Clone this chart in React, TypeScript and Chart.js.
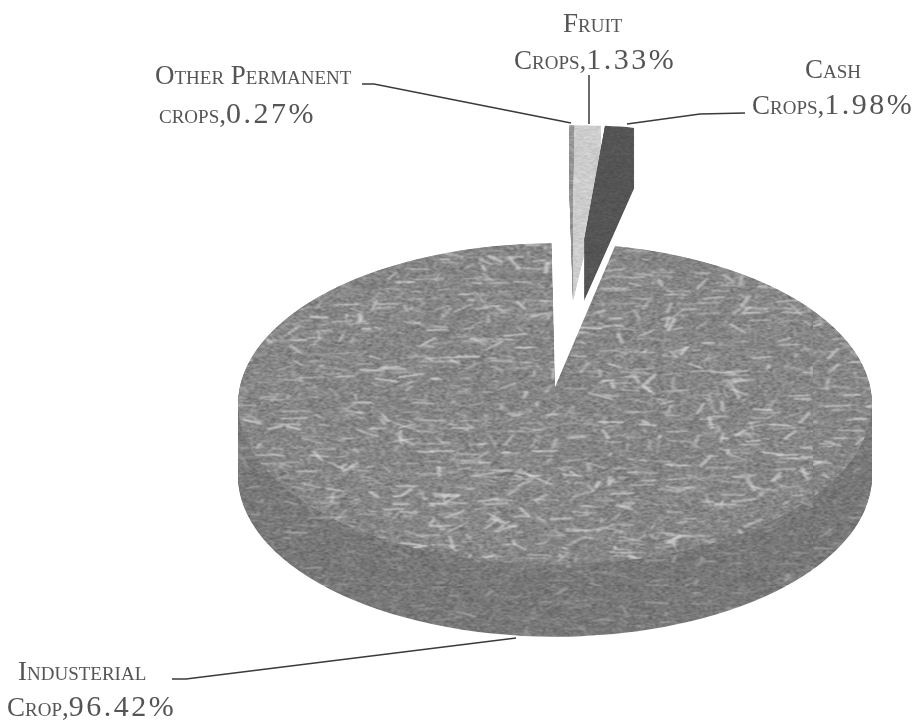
import React, { useEffect, useRef } from "react";
import { Chart, registerables } from "chart.js";

Chart.register(...registerables);

const categories = ["Other Permanent crops", "Fruit Crops", "Cash Crops", "Industerial Crop"];
const shares = [0.27, 1.33, 1.98, 96.42];
const firstLines = ["Other Permanent", "Fruit", "Cash", "Industerial"];
const secondLines = ["crops", "Crops", "Crops", "Crop"];

// Text layout: [left, baseline] for each line, in category order
const firstLinePos = [[155, 84], [563, 32], [805, 78], [18, 680]];
const secondLinePos = [[159, 122], [514, 68], [752, 113], [7, 715]];
const leaders = [
  [[362, 84], [374, 84], [571, 123]],
  [[589, 75], [589, 124]],
  [[745, 113], [700, 114], [627, 124]],
  [[172, 679], [186, 679], [516, 638]],
];

const CX = 555, CY = 404, RADIUS = 317, TILT = 0.507, DEPTH = 72, APEX_LIFT = 17;
const EX_X = 573, EX_Y = 241, EX_TILT = 0.365, EX_DEPTH = 60;
const exNudge = [0, 0, 11];
const exWidth = [1, 1, 0.75];

function makeTexture(base: number, spread: number, flecks: number, fleckTone: number) {
  const S = 720;
  let seed = 12345 + base * 7;
  const next = () => {
    seed = (seed * 1664525 + 1013904223) % 4294967296;
    return seed / 4294967296;
  };
  const raw = document.createElement("canvas");
  raw.width = raw.height = S;
  const r = raw.getContext("2d")!;
  const img = r.createImageData(S, S);
  for (let i = 0; i < S * S; i++) {
    const v = base + (next() - 0.5) * spread;
    img.data[i * 4] = img.data[i * 4 + 1] = img.data[i * 4 + 2] = v;
    img.data[i * 4 + 3] = 255;
  }
  r.putImageData(img, 0, 0);
  r.lineCap = "round";
  for (let i = 0; i < flecks; i++) {
    const x = next() * S, y = next() * S;
    const horizontal = next() < 0.45;
    const a = horizontal ? (next() - 0.5) * 0.25 : next() * Math.PI;
    const len = 4 + next() * 20;
    r.strokeStyle = `rgba(${fleckTone},${fleckTone},${fleckTone},${0.2 + next() * 0.45})`;
    r.lineWidth = 1.5 + next() * 3;
    r.beginPath();
    r.moveTo(x, y);
    r.lineTo(x + Math.cos(a) * len, y + Math.sin(a) * len);
    r.stroke();
  }
  const out = document.createElement("canvas");
  out.width = out.height = S;
  const o = out.getContext("2d")!;
  o.filter = "blur(1px)";
  o.drawImage(raw, 0, 0);
  return o.createPattern(out, "repeat")!;
}

function paint(ctx: any, el: any, fill: any, tx: number, ty: number, sy: number, sx = 1) {
  const saved = el.options;
  el.options = { ...saved, backgroundColor: fill };
  ctx.save();
  ctx.translate(tx, ty);
  ctx.scale(sx, sy);
  ctx.translate(-el.x, -el.y);
  el.draw(ctx);
  ctx.restore();
  el.options = saved;
}

export default function App() {
  const ref = useRef<HTMLCanvasElement>(null);
  useEffect(() => {
    const top = makeTexture(134, 120, 1800, 228);
    const side = makeTexture(120, 100, 900, 180);
    const light = makeTexture(205, 70, 60, 240);
    const mid = makeTexture(150, 90, 0, 200);
    const dark = makeTexture(85, 45, 0, 120);
    const fills = [mid, light, dark, top];

    const pie3d = {
      id: "pie3d",
      beforeDatasetsDraw(chart: any) {
        const ctx = chart.ctx;
        const arcs = chart.getDatasetMeta(0).data;
        const main = arcs[3];
        // Pulled-out group, cash in front of the lighter slices
        [0, 1, 2].forEach((i) => {
          const x = EX_X + exNudge[i];
          for (let d = EX_DEPTH; d > 0; d--) {
            fills[i].setTransform(new DOMMatrix([1, 0, 0, 1, 0, -d / EX_TILT]));
            paint(ctx, arcs[i], fills[i], x, EX_Y + d, EX_TILT, exWidth[i]);
          }
          fills[i].setTransform(new DOMMatrix());
          paint(ctx, arcs[i], fills[i], x, EX_Y, EX_TILT, exWidth[i]);
        });
        // Side wall: the texture stays still while the slice steps down
        for (let d = DEPTH; d > 0; d--) {
          side.setTransform(new DOMMatrix([1, 0, 0, 1, 0, -d / TILT]));
          paint(ctx, main, side, CX, CY + d, TILT);
        }
        // Top face, with the perspective-raised tip of the gap
        ctx.save();
        ctx.beginPath();
        ctx.ellipse(CX, CY, RADIUS, RADIUS * TILT, 0, 0, Math.PI * 2);
        ctx.clip();
        top.setTransform(new DOMMatrix([1, 0, 0, 1, 0, APEX_LIFT / TILT]));
        paint(ctx, main, top, CX, CY - APEX_LIFT, TILT);
        top.setTransform(new DOMMatrix());
        paint(ctx, main, top, CX, CY, TILT);
        ctx.restore();
        return false;
      },
      afterDraw(chart: any) {
        const ctx = chart.ctx;
        ctx.save();
        ctx.strokeStyle = "#3a3a3a";
        ctx.lineWidth = 1.5;
        leaders.forEach((pts) => {
          ctx.beginPath();
          pts.forEach(([x, y], i) => (i ? ctx.lineTo(x, y) : ctx.moveTo(x, y)));
          ctx.stroke();
        });
        ctx.restore();
      },
    };

    const chart = new Chart(ref.current!, {
      type: "pie",
      data: {
        labels: categories,
        datasets: [
          {
            data: shares,
            backgroundColor: fills,
            borderWidth: 0,
            radius: RADIUS,
            clip: false,
          } as any,
        ],
      },
      options: {
        animation: false,
        responsive: false,
        rotation: -0.7,
        plugins: { legend: { display: false }, tooltip: { enabled: false } },
      },
      plugins: [pie3d],
    } as any);
    return () => chart.destroy();
  }, []);

  const lineStyle: React.CSSProperties = {
    position: "absolute",
    whiteSpace: "nowrap",
    fontFamily: "'Liberation Serif', serif",
    fontVariant: "small-caps",
    fontSize: 27,
    lineHeight: "30px",
    color: "#555",
    filter: "blur(0.35px)",
  };

  return (
    <div style={{ position: "absolute", left: 0, top: 0, width: 924, height: 723, background: "#fff", overflow: "hidden" }}>
      <canvas ref={ref} width={924} height={723} style={{ position: "absolute", left: 0, top: 0, filter: "blur(0.5px)" }} />
      {categories.map((c, i) => (
        <React.Fragment key={c}>
          <div style={{ ...lineStyle, left: firstLinePos[i][0], top: firstLinePos[i][1] - 24 }}>{firstLines[i]}</div>
          <div style={{ ...lineStyle, left: secondLinePos[i][0], top: secondLinePos[i][1] - 24 }}>
            {secondLines[i]},
            <span style={{ fontSize: 30, letterSpacing: 2.5 }}>{shares[i].toFixed(2)}%</span>
          </div>
        </React.Fragment>
      ))}
    </div>
  );
}
